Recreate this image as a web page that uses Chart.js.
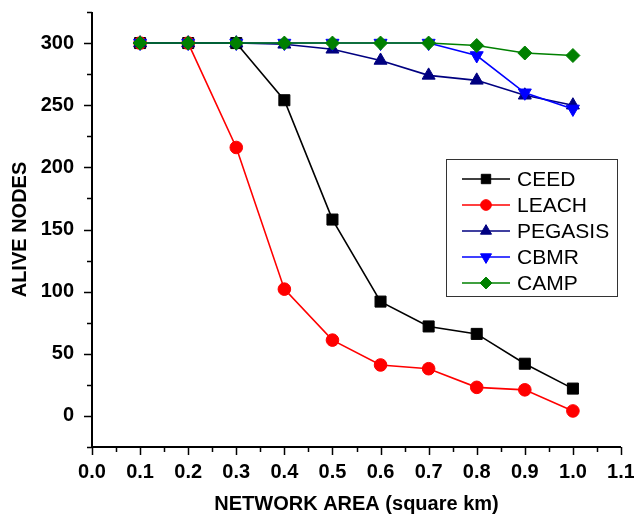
<!DOCTYPE html>
<html lang="en">
<head>
<meta charset="UTF-8" />
<title>Alive Nodes vs Network Area</title>
<script src="https://cdn.jsdelivr.net/npm/chart.js"></script>
<style>
  html, body { margin: 0; padding: 0; background: #ffffff; }
  #wrap { width: 634px; height: 514px; }
</style>
</head>
<body>
<div id="wrap"><canvas id="aliveChart" width="634" height="514"></canvas></div>
<script>
  // network area (square km) and alive node counts per protocol
  const areas   = [0.1, 0.2, 0.3, 0.4, 0.5, 0.6, 0.7, 0.8, 0.9, 1.0];
  const ceed    = [300, 300, 300, 254, 158, 92, 72, 66, 42, 22];
  const leach   = [300, 300, 216, 102, 61, 41, 38, 23, 21, 4];
  const pegasis = [300, 300, 300, 299, 295, 286, 274, 270, 258, 250];
  const cbmr    = [300, 300, 300, 300, 300, 300, 300, 290, 260, 247];
  const camp    = [300, 300, 300, 300, 300, 300, 300, 298, 292, 290];

  const xMin = 0, xMax = 1.1, xStep = 0.05;
  const yMin = -25, yMax = 325, yStep = 25;

  const FONT = '"Liberation Sans", Arial, sans-serif';
  Chart.defaults.font.family = FONT;
  Chart.defaults.color = '#000';

  const pts = vals => vals.map((v, i) => ({ x: areas[i], y: v }));

  function series(label, vals, color, style, radius, rotation, order) {
    return {
      label, data: pts(vals), order,
      borderColor: color, backgroundColor: color,
      borderWidth: 1.6, fill: false, tension: 0,
      pointStyle: style, pointRadius: radius, pointRotation: rotation,
      pointBackgroundColor: color, pointBorderColor: color, pointBorderWidth: 1
    };
  }

  // axis lines with major/minor outward ticks
  const axesPlugin = {
    id: 'axesLines',
    afterDatasetsDraw(chart) {
      const { ctx, chartArea: a, scales: { x, y } } = chart;
      ctx.save();
      ctx.strokeStyle = '#000';
      ctx.lineWidth = 2;
      ctx.beginPath();
      ctx.moveTo(a.left, a.top);
      ctx.lineTo(a.left, a.bottom);
      ctx.lineTo(a.right, a.bottom);
      ctx.stroke();
      ctx.lineWidth = 1.5;
      ctx.beginPath();
      x.ticks.forEach(t => {
        const px = Math.round(x.getPixelForValue(t.value)) + 0.5;
        const major = Math.round(t.value * 100) % 10 === 0;
        ctx.moveTo(px, a.bottom);
        ctx.lineTo(px, a.bottom + (major ? 8 : 5));
      });
      y.ticks.forEach(t => {
        const py = Math.round(y.getPixelForValue(t.value)) + 0.5;
        const major = t.value % 50 === 0;
        ctx.moveTo(a.left, py);
        ctx.lineTo(a.left - (major ? 8 : 5), py);
      });
      ctx.stroke();
      ctx.restore();
    }
  };

  // boxed legend with a line through each marker
  const legendPlugin = {
    id: 'boxLegend',
    afterDraw(chart) {
      const { ctx, chartArea: a } = chart;
      const boxR = a.right - 4, boxL = boxR - 171;
      const boxT = 159, rowH = 26;
      const sets = chart.data.datasets;
      ctx.save();
      ctx.fillStyle = '#fff';
      ctx.fillRect(boxL, boxT, boxR - boxL, 137);
      ctx.strokeStyle = '#333';
      ctx.lineWidth = 1;
      ctx.strokeRect(boxL + 0.5, boxT + 0.5, boxR - boxL, 137);
      sets.forEach((ds, i) => {
        const cy = boxT + 20 + i * rowH;
        const x0 = boxL + 16, x1 = boxL + 64;
        ctx.strokeStyle = ds.borderColor;
        ctx.lineWidth = 1.6;
        ctx.beginPath();
        ctx.moveTo(x0, cy);
        ctx.lineTo(x1, cy);
        ctx.stroke();
        ctx.fillStyle = ds.borderColor;
        ctx.strokeStyle = ds.borderColor;
        ctx.lineWidth = 1;
        Chart.helpers.drawPoint(ctx, {
          pointStyle: ds.pointStyle,
          radius: ds.pointRadius * 0.85,
          rotation: ds.pointRotation,
          borderWidth: 1
        }, (x0 + x1) / 2, cy);
        ctx.fillStyle = '#000';
        ctx.font = '21px ' + FONT;
        ctx.textBaseline = 'middle';
        ctx.textAlign = 'left';
        ctx.fillText(ds.label, x1 + 7, cy + 1);
      });
      ctx.restore();
    }
  };

  new Chart(document.getElementById('aliveChart'), {
    type: 'line',
    data: {
      datasets: [
        series('CEED', ceed, '#000000', 'rect', 7.8, 0, 5),
        series('LEACH', leach, '#ff0000', 'circle', 6.3, 0, 4),
        series('PEGASIS', pegasis, '#000080', 'triangle', 7.5, 0, 3),
        series('CBMR', cbmr, '#0000ff', 'triangle', 7.5, 180, 2),
        series('CAMP', camp, '#008000', 'rectRot', 7, 0, 1)
      ]
    },
    options: {
      responsive: false,
      animation: false,
      layout: { padding: 0 },
      plugins: { legend: { display: false }, tooltip: { enabled: false } },
      scales: {
        x: {
          type: 'linear', min: xMin, max: xMax,
          border: { display: false },
          grid: { display: false, drawTicks: false },
          afterFit: s => {
            s.height = 67;
            s.paddingLeft = 0;
            s.paddingRight = 13;
          },
          ticks: {
            stepSize: xStep, autoSkip: false, maxRotation: 0, padding: 13,
            font: { size: 20, weight: 'bold' },
            callback: v => (Math.round(v * 100) % 10 === 0 ? v.toFixed(1) : '')
          },
          title: {
            display: true, text: 'NETWORK AREA (square km)',
            font: { size: 20, weight: 'bold' },
            padding: { top: 0, bottom: -2 }
          }
        },
        y: {
          min: yMin, max: yMax,
          border: { display: false },
          grid: { display: false, drawTicks: false },
          afterFit: s => {
            s.width = 92;
            s.paddingTop = 12;
            s.paddingBottom = 0;
          },
          ticks: {
            stepSize: yStep, autoSkip: false, padding: 18,
            font: { size: 20, weight: 'bold' },
            callback: v => (v >= 0 && v % 50 === 0 ? String(v) : '')
          },
          title: {
            display: true, text: 'ALIVE NODES',
            font: { size: 20, weight: 'bold' },
            padding: { top: 8, bottom: 0 }
          }
        }
      }
    },
    plugins: [axesPlugin, legendPlugin]
  });
</script>
</body>
</html>
